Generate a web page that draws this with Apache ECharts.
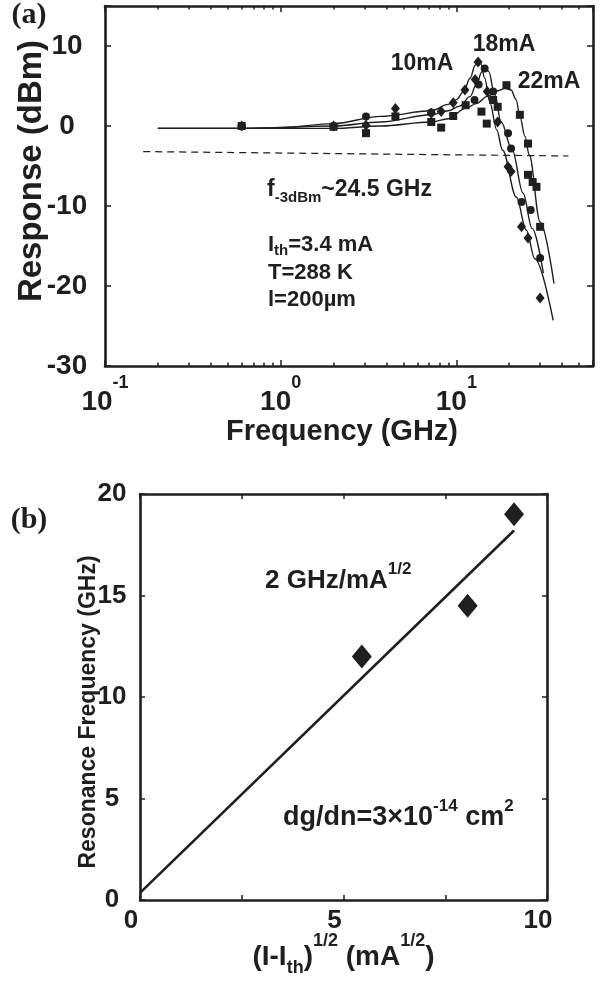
<!DOCTYPE html>
<html>
<head>
<meta charset="utf-8">
<script src="https://cdn.jsdelivr.net/npm/echarts@6/dist/echarts.min.js"></script>
<style>
  html, body { margin: 0; padding: 0; background: #fff; overflow: hidden; }
  #chart { width: 602px; height: 983px; }
</style>
</head>
<body>
<div id="chart"></div>
<script>
const FONT = '"Liberation Sans", Arial, Helvetica, sans-serif';
const SERIF = '"Liberation Serif", "Times New Roman", serif';
const INK = '#1f1f1f';

// (a) modulation response: [frequency GHz, response dBm]
const fit10mA = [[0.2, -0.3], [0.6, -0.3], [1, -0.2], [2, 0.3], [3.7, 1.2], [7.2, 1.9], [9, 2.7], [10, 3.3], [11, 4.3], [12, 6.0], [12.8, 7.6], [13.3, 8.2], [13.8, 7.8], [14.5, 6.0], [15.5, 3.0], [17, -0.5], [18.3, -3], [22, -8.9], [25, -13], [28, -16.6], [35.6, -24.3]];
const fit18mA = [[0.2, -0.3], [0.6, -0.3], [2, 0], [3.7, 0.5], [7.2, 1.4], [9, 1.9], [10.5, 2.5], [12, 3.7], [13, 5.2], [14, 6.8], [14.6, 7.3], [15.3, 6.8], [16.5, 4.0], [18, 0.5], [20.8, -3], [24, -8.4], [27, -12.8], [31.3, -18.4]];
const fit22mA = [[0.2, -0.3], [0.6, -0.3], [2, -0.3], [3.7, 0], [7.2, 0.5], [9, 0.9], [11.3, 2.2], [13, 2.8], [15, 3.7], [17.2, 4.4], [18.9, 4.7], [20.5, 4.5], [21.9, 3.3], [23, 1.2], [24.6, -1.3], [26, -3.6], [30, -12.0], [36, -19.7]];

const meas10mA = [[0.6, 0], [2, 0], [3.06, 0.1], [4.5, 2.2], [7.2, 1.6], [8.2, 1.8], [9.6, 2.9], [11.2, 4.5], [12.8, 5.8], [13.3, 8.0], [15.0, 4.3], [17.2, 0.5], [19.7, -5.1], [20.5, -5.7], [23.5, -12.6], [25.6, -14.0], [30.0, -21.5]];
const meas18mA = [[0.6, 0], [2, 0], [3.06, 1.2], [7.2, 1.7], [12.7, 3.25], [13.4, 5.2], [14.5, 7.2], [16.2, 4.3], [19.7, -0.9], [20.5, -2.8], [23.5, -9.5], [26.5, -10.5], [30.0, -16.5]];
const meas22mA = [[0.6, 0], [2, -0.1], [3.06, -0.9], [4.5, 1.2], [7.2, 0.5], [8.2, -0.2], [9.6, 1.25], [11.3, 2.6], [13.9, 1.8], [14.9, 0.3], [16.2, 3.25], [17.2, 2.4], [19.3, 5.1], [23.0, 1.4], [25.6, -2.2], [25.6, -6.1], [27.2, -7.0], [28.6, -7.6], [30.0, -12.6]];

const cutoffLine = [[0.165, -3.2], [43.5, -3.75]];
const freqMinorTicks = [0.2, 0.3, 0.4, 0.5, 0.6, 0.7, 0.8, 0.9, 2, 3, 4, 5, 6, 7, 8, 9, 20, 30, 40, 50];

// (b) resonance frequency vs sqrt(I - Ith)
const sqrtCurrent = [5.45, 8.05, 9.19];
const resonanceGHz = [12.0, 14.5, 19.0];
const resonanceFit = [[0, 0.35], [9.19, 18.2]];

const chart = echarts.init(document.getElementById('chart'));

const boxLine = { show: true, onZero: false, lineStyle: { color: INK, width: 2.6 } };
const hiddenLine = { show: false, onZero: false };
const tick = len => ({ show: true, inside: true, length: len, lineStyle: { color: INK, width: 1.5 } });
const noLabel = { show: false };
const noSplit = { show: false };
const bold = size => ({ fontFamily: FONT, fontWeight: 'bold', fontSize: size, color: INK });

function pow10Label(v) {
  const n = Math.round(Math.log10(v));
  if (Math.abs(Math.log10(v) - n) > 1e-6) return '';
  return '{b|10}{s|' + n + '}';
}

const fitLine = (name, data) => ({
  name, type: 'line', data, xAxisIndex: 0, yAxisIndex: 0,
  showSymbol: false, symbol: 'none', smooth: 0.35, smoothMonotone: 'x',
  lineStyle: { color: INK, width: 1.4 }, z: 2
});
const marks = (name, data, symbol, size) => ({
  name, type: 'scatter', data, xAxisIndex: 0, yAxisIndex: 0,
  symbol, symbolSize: size, itemStyle: { color: INK, opacity: 1 }, z: 3
});

const txtStyle = (size, extra) => Object.assign({ fontFamily: FONT, fontWeight: 'bold', fontSize: size, fill: INK }, extra);

function label(x, y, text, size, align, rich) {
  return {
    type: 'text', x, y, z: 10,
    style: txtStyle(size, { text, align: align || 'left', verticalAlign: 'middle', rich })
  };
}

const supSub = (main, lh, small, subPad) => ({
  m: txtStyle(main, { lineHeight: lh, verticalAlign: 'middle' }),
  p: txtStyle(small, { lineHeight: small, verticalAlign: 'top' }),
  b: txtStyle(small, { lineHeight: small, verticalAlign: 'bottom', padding: [0, 0, subPad || 0, 0] })
});

const option = {
  animation: false,
  backgroundColor: '#fff',
  grid: [
    { left: 105, top: 6, width: 488, height: 360, outerBoundsMode: 'none' },
    { left: 140, top: 494, width: 407, height: 406, outerBoundsMode: 'none' }
  ],
  xAxis: [
    {
      gridIndex: 0, type: 'log', logBase: 10, min: 0.1, max: 60, position: 'bottom',
      axisLine: boxLine, axisTick: tick(6), splitLine: noSplit,
      axisLabel: {
        formatter: pow10Label, margin: 8,
        rich: {
          b: Object.assign(bold(28), { lineHeight: 42, verticalAlign: 'bottom' }),
          s: Object.assign(bold(18), { lineHeight: 18, verticalAlign: 'top' })
        }
      },
      name: 'Frequency (GHz)', nameLocation: 'middle', nameGap: 51, nameMoveOverlap: false,
      nameTextStyle: Object.assign(bold(29), { padding: [0, 14, 0, 0] })
    },
    {
      gridIndex: 0, type: 'log', logBase: 10, min: 0.1, max: 60, position: 'top',
      axisLine: boxLine, axisTick: tick(6), axisLabel: noLabel, splitLine: noSplit
    },
    {
      gridIndex: 0, type: 'value', min: -1, max: Math.log10(60), position: 'bottom',
      axisLine: hiddenLine, axisLabel: noLabel, splitLine: noSplit,
      axisTick: Object.assign(tick(3.5), { customValues: freqMinorTicks.map(Math.log10) })
    },
    {
      gridIndex: 0, type: 'value', min: -1, max: Math.log10(60), position: 'top',
      axisLine: hiddenLine, axisLabel: noLabel, splitLine: noSplit,
      axisTick: Object.assign(tick(3.5), { customValues: freqMinorTicks.map(Math.log10) })
    },
    {
      gridIndex: 1, type: 'value', min: 0, max: 10, interval: 2.5, position: 'bottom',
      axisLine: boxLine, axisTick: tick(5), splitLine: noSplit,
      axisLabel: Object.assign(bold(26), {
        margin: 8, padding: [0, 18, 0, 0],
        formatter: v => (v % 5 === 0 ? String(v) : '')
      }),
      name: '{m|(I-I}{b|th}{m|)}{p|1/2}{m| (mA}{p|1/2}{m|)}',
      nameLocation: 'middle', nameGap: 32, nameMoveOverlap: false,
      nameTextStyle: Object.assign(bold(28), {
        rich: {
          m: Object.assign(bold(28), { lineHeight: 50, verticalAlign: 'middle' }),
          p: Object.assign(bold(18), { lineHeight: 18, verticalAlign: 'top' }),
          b: Object.assign(bold(18), { lineHeight: 18, verticalAlign: 'bottom', padding: [0, 0, 5, 0] })
        }
      })
    },
    {
      gridIndex: 1, type: 'value', min: 0, max: 10, interval: 2.5, position: 'top',
      axisLine: boxLine, axisTick: tick(5), axisLabel: noLabel, splitLine: noSplit
    }
  ],
  yAxis: [
    {
      gridIndex: 0, type: 'value', min: -30, max: 15, interval: 10, position: 'left',
      axisLine: boxLine, axisTick: tick(6), splitLine: noSplit,
      axisLabel: Object.assign(bold(28), { margin: 38, align: 'center', formatter: v => (v > 10 ? '' : String(v)) }),
      name: 'Response (dBm)', nameLocation: 'middle', nameGap: 57, nameMoveOverlap: false,
      nameTextStyle: Object.assign(bold(33), { padding: [0, 0, 0, 30] })
    },
    {
      gridIndex: 0, type: 'value', min: -30, max: 15, interval: 10, position: 'right',
      axisLine: boxLine, axisTick: tick(6), axisLabel: noLabel, splitLine: noSplit
    },
    {
      gridIndex: 1, type: 'value', min: 0, max: 20, interval: 5, position: 'left',
      axisLine: boxLine, axisTick: tick(5), splitLine: noSplit,
      axisLabel: Object.assign(bold(26), { margin: 28, align: 'center' }),
      name: 'Resonance Frequency (GHz)', nameLocation: 'middle', nameGap: 40, nameMoveOverlap: false,
      nameTextStyle: Object.assign(bold(23), { padding: [0, 30, 0, 0] })
    },
    {
      gridIndex: 1, type: 'value', min: 0, max: 20, interval: 5, position: 'right',
      axisLine: boxLine, axisTick: tick(5), axisLabel: noLabel, splitLine: noSplit
    }
  ],
  series: [
    fitLine('10mA fit', fit10mA),
    fitLine('18mA fit', fit18mA),
    fitLine('22mA fit', fit22mA),
    marks('10mA', meas10mA, 'diamond', [9, 11]),
    marks('18mA', meas18mA, 'circle', 8),
    marks('22mA', meas22mA, 'rect', 8),
    {
      name: '-3 dB', type: 'line', data: cutoffLine, xAxisIndex: 0, yAxisIndex: 0,
      showSymbol: false, symbol: 'none',
      lineStyle: { color: INK, width: 1.2, type: [7, 5] }, z: 1
    },
    {
      name: 'fit', type: 'line', data: resonanceFit, xAxisIndex: 4, yAxisIndex: 2,
      showSymbol: false, symbol: 'none', lineStyle: { color: INK, width: 2.6 }
    },
    {
      name: 'resonance', type: 'scatter', xAxisIndex: 4, yAxisIndex: 2,
      data: sqrtCurrent.map((x, i) => [x, resonanceGHz[i]]),
      symbol: 'diamond', symbolSize: [20, 24], itemStyle: { color: INK, opacity: 1 }
    }
  ],
  graphic: [
    { type: 'text', x: 29, y: 15, z: 10, style: { text: '(a)', fontFamily: SERIF, fontWeight: 'bold', fontSize: 30, fill: INK, align: 'center', verticalAlign: 'middle' } },
    { type: 'text', x: 29, y: 520, z: 10, style: { text: '(b)', fontFamily: SERIF, fontWeight: 'bold', fontSize: 30, fill: INK, align: 'center', verticalAlign: 'middle' } },
    label(422, 64, '10mA', 23, 'center'),
    label(504, 45, '18mA', 23, 'center'),
    label(549, 82, '22mA', 23, 'center'),
    label(267, 190, '{m|f}{b|-3dBm}{m|~24.5 GHz}', 23, 'left', supSub(23, 30, 15)),
    label(268, 245, '{m|I}{b|th}{m|=3.4 mA}', 22, 'left', supSub(22, 27, 15)),
    label(268, 273, 'T=288 K', 22),
    label(268, 300, 'l=200\u00b5m', 22),
    label(265, 581, '{m|2 GHz/mA}{p|1/2}', 26, 'left', supSub(26, 40, 17)),
    label(283, 818, '{m|dg/dn=3\u00d710}{p|-14}{m| cm}{p|2}', 27, 'left', supSub(27, 40, 17))
  ]
};

chart.setOption(option);
</script>
</body>
</html>
